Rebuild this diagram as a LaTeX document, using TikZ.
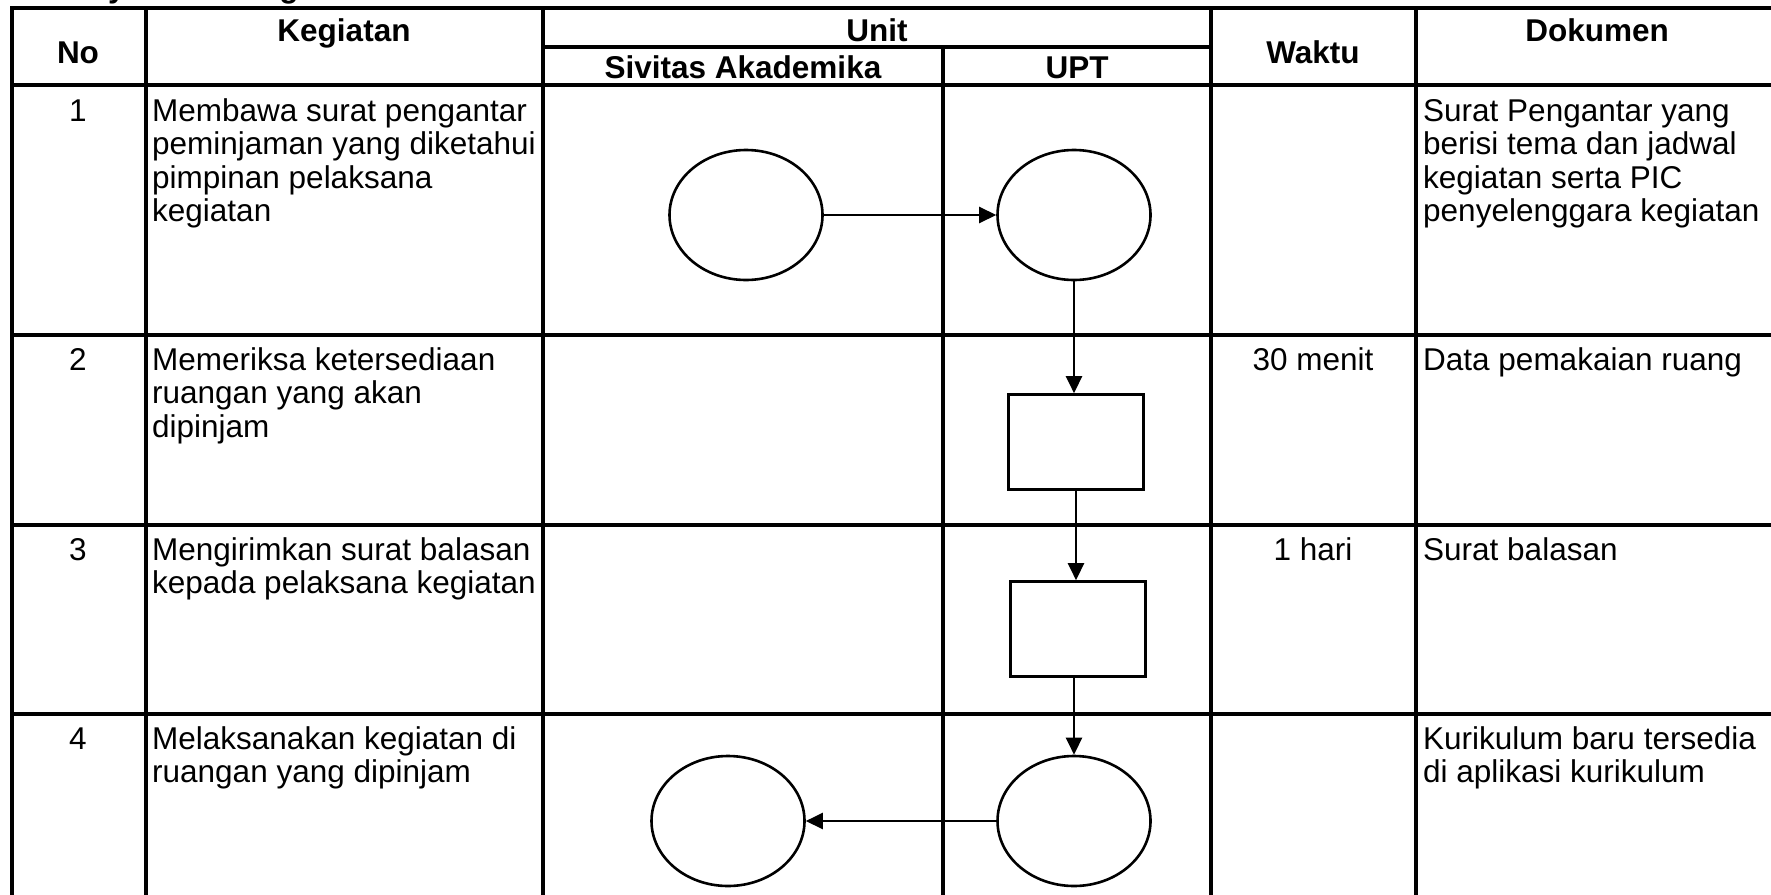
\documentclass[tikz,border=0pt]{standalone}
\usepackage{fontspec}
\setmainfont{Liberation Sans}
\usetikzlibrary{arrows.meta,shapes.geometric}
\newcommand{\fl}{\rule{0pt}{24pt}}
\begin{document}
\begin{tikzpicture}[x=1pt,y=-1pt,
  grid/.style={line width=3.4pt, line cap=rect},
  flow/.style={draw, line width=2.6pt, inner sep=0pt, fill=white},
  oval/.style={flow, ellipse, minimum width=153pt, minimum height=130pt},
  box/.style={flow, rectangle, minimum width=135pt, minimum height=95pt},
  conn/.style={line width=2.4pt, -{Triangle[length=17pt,width=16pt]}},
  txt/.style={font=\fontsize{31.5}{33.5}\selectfont, inner sep=0pt},
  hd/.style={font=\fontsize{31.5}{33.5}\selectfont\bfseries, inner sep=0pt},
  cell/.style={txt, anchor=north west, align=left},
  num/.style={txt, anchor=base}
]
\useasboundingbox (0,0) rectangle (1771,894);
\clip (0,0) rectangle (1771,894);
\fill[white] (0,0) rectangle (1771,894);

% cut-off title (only descenders visible in the reference)
\node[hd, anchor=base] (ty) at (117,-2) {y};
\node[hd, anchor=base] (tg) at (289,-2) {g};

% table grid
\draw[grid] (12,8) -- (1771,8);
\draw[grid] (543,47) -- (1211,47);
\draw[grid] (12,85) -- (1771,85);
\draw[grid] (12,335) -- (1771,335);
\draw[grid] (12,525) -- (1771,525);
\draw[grid] (12,714) -- (1771,714);
\draw[grid] (12,8) -- (12,900);
\draw[grid] (146,8) -- (146,900);
\draw[grid] (543,8) -- (543,900);
\draw[grid] (943,47) -- (943,900);
\draw[grid] (1211,8) -- (1211,900);
\draw[grid] (1416,8) -- (1416,900);

% header
\node[hd, anchor=base] (hno) at (78,63) {No};
\node[hd, anchor=base] (hkeg) at (344,41) {Kegiatan};
\node[hd, anchor=base] (hunit) at (877,41) {Unit};
\node[hd, anchor=base] (hsiv) at (743,78) {Sivitas Akademika};
\node[hd, anchor=base] (hupt) at (1077,78) {UPT};
\node[hd, anchor=base] (hwak) at (1313,63) {Waktu};
\node[hd, anchor=base] (hdok) at (1597,41) {Dokumen};

% row 1
\node[num] (n1) at (78,121) {1};
\node[cell] (k1) at (152,97) {\fl Membawa surat pengantar\\peminjaman yang diketahui\\pimpinan pelaksana\\kegiatan};
\node[cell] (d1) at (1423,97) {\fl Surat Pengantar yang\\berisi tema dan jadwal\\kegiatan serta PIC\\penyelenggara kegiatan};

% row 2
\node[num] (n2) at (78,370) {2};
\node[cell] (k2) at (152,346) {\fl Memeriksa ketersediaan\\ruangan yang akan\\dipinjam};
\node[num] (w2) at (1313,370) {30 menit};
\node[cell] (d2) at (1423,346) {\fl Data pemakaian ruang};

% row 3
\node[num] (n3) at (78,560) {3};
\node[cell] (k3) at (152,536) {\fl Mengirimkan surat balasan\\kepada pelaksana kegiatan};
\node[num] (w3) at (1313,560) {1 hari};
\node[cell] (d3) at (1423,536) {\fl Surat balasan};

% row 4
\node[num] (n4) at (78,749) {4};
\node[cell] (k4) at (152,725) {\fl Melaksanakan kegiatan di\\ruangan yang dipinjam};
\node[cell] (d4) at (1423,725) {\fl Kurikulum baru tersedia\\di aplikasi kurikulum};

% flow shapes
\node[oval] (A) at (746,215) {};
\node[oval] (B) at (1074,215) {};
\node[box] (R1) at (1076,442) {};
\node[box] (R2) at (1078,629) {};
\node[oval] (C) at (1074,821) {};
\node[oval] (D) at (728,821) {};

% connectors
\draw[conn] (A.east) -- (B.west);
\draw[conn] (B.south) -- (B.south |- R1.north);
\draw[conn] (R1.south) -- (R1.south |- R2.north);
\draw[conn] (C.north |- R2.south) -- (C.north);
\draw[conn] (C.west) -- (D.east);
\end{tikzpicture}
\end{document}
